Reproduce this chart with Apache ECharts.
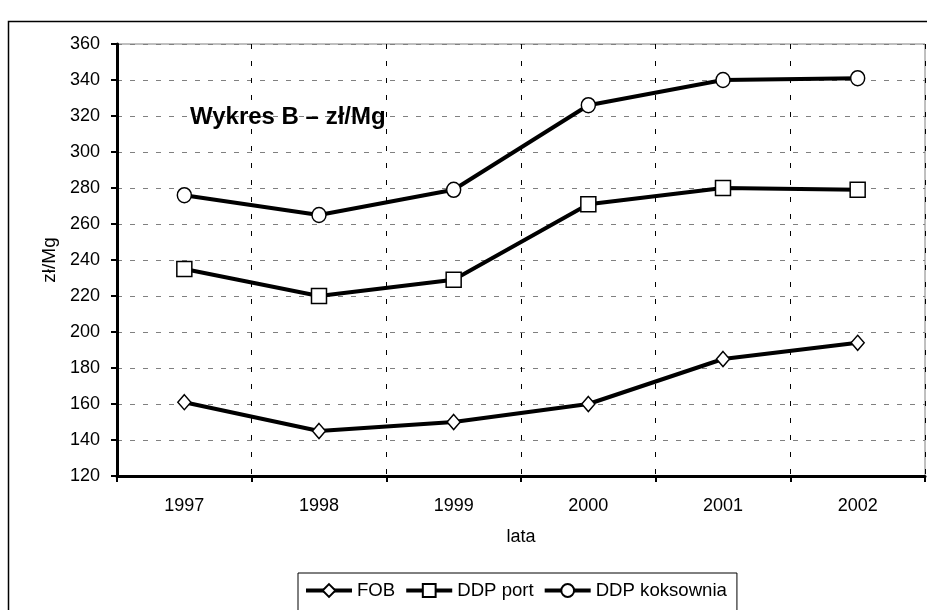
<!DOCTYPE html>
<html>
<head>
<meta charset="utf-8">
<script src="https://cdn.jsdelivr.net/npm/echarts@6/dist/echarts.min.js"></script>
<style>
html,body{margin:0;padding:0;background:#fff;}
#chart{width:927px;height:610px;}
</style>
</head>
<body>
<div id="chart"></div>
<script>
const categories = ['1997', '1998', '1999', '2000', '2001', '2002'];
const fob = [161, 145, 150, 160, 185, 194];
const ddpPort = [235, 220, 229, 271, 280, 279];
const ddpKoksownia = [276, 265, 279, 326, 340, 341];
const seriesNames = ['FOB', 'DDP port', 'DDP koksownia'];
const yMin = 120, yMax = 360, yStep = 20;

const FONT = 'Liberation Sans, Arial, sans-serif';
const chart = echarts.init(document.getElementById('chart'), null, {renderer: 'canvas'});

function lineSeries(name, data, symbol, size) {
  return {
    name: name,
    type: 'line',
    data: data,
    symbol: symbol,
    symbolSize: size,
    showAllSymbol: true,
    lineStyle: {color: '#000', width: 4},
    itemStyle: {color: '#fff', borderColor: '#000', borderWidth: 1.5},
    emphasis: {disabled: true},
    animation: false,
    z: 3
  };
}

const option = {
  animation: false,
  backgroundColor: '#fff',
  textStyle: {fontFamily: FONT, color: '#000'},
  graphic: [
    {type: 'rect', shape: {x: 8.5, y: 21.5, width: 940, height: 640},
     style: {fill: null, stroke: '#000', lineWidth: 1.5}, silent: true, z: 0},
    {type: 'text', left: 190, top: 105, z: 10,
     style: {text: 'Wykres B \u2013 zł/Mg', font: 'bold 24px ' + FONT, fill: '#000'}}
  ],
  grid: {left: 117, right: 2, top: 44, bottom: 134, show: true, borderColor: '#808080', borderWidth: 1, backgroundColor: 'transparent'},
  legend: {
    data: seriesNames,
    left: 298, top: 573,
    orient: 'horizontal',
    itemWidth: 46, itemHeight: 16, itemGap: 9,
    padding: [8, 10, 40, 6],
    borderColor: '#000', borderWidth: 1,
    lineStyle: {width: 4},
    textStyle: {fontFamily: FONT, fontSize: 18.6, color: '#000'}
  },
  xAxis: {
    type: 'category',
    data: categories,
    boundaryGap: true,
    name: 'lata',
    nameLocation: 'middle',
    nameGap: 52,
    nameTextStyle: {fontFamily: FONT, fontSize: 18, color: '#000'},
    axisLine: {lineStyle: {color: '#000', width: 3}},
    axisTick: {show: true, inside: false, length: 6, lineStyle: {color: '#000', width: 2}},
    axisLabel: {fontFamily: FONT, fontSize: 18, color: '#000', margin: 21},
    splitLine: {show: true, lineStyle: {color: '#000', width: 1, type: [5, 12]}}
  },
  yAxis: {
    type: 'value',
    min: yMin, max: yMax, interval: yStep,
    name: 'zł/Mg',
    nameLocation: 'middle',
    nameGap: 58,
    nameRotate: 90,
    nameTextStyle: {fontFamily: FONT, fontSize: 19, color: '#000'},
    axisLine: {show: true, lineStyle: {color: '#000', width: 3}},
    axisTick: {show: true, inside: false, length: 6, lineStyle: {color: '#000', width: 2}},
    axisLabel: {fontFamily: FONT, fontSize: 18, color: '#000', margin: 17},
    splitLine: {show: true, lineStyle: {color: '#808080', width: 1, type: [5, 8]}}
  },
  series: [
    lineSeries(seriesNames[0], fob, 'diamond', [13, 15]),
    lineSeries(seriesNames[1], ddpPort, 'rect', 15),
    lineSeries(seriesNames[2], ddpKoksownia, 'circle', [14, 15])
  ]
};
chart.setOption(option);
</script>
</body>
</html>
